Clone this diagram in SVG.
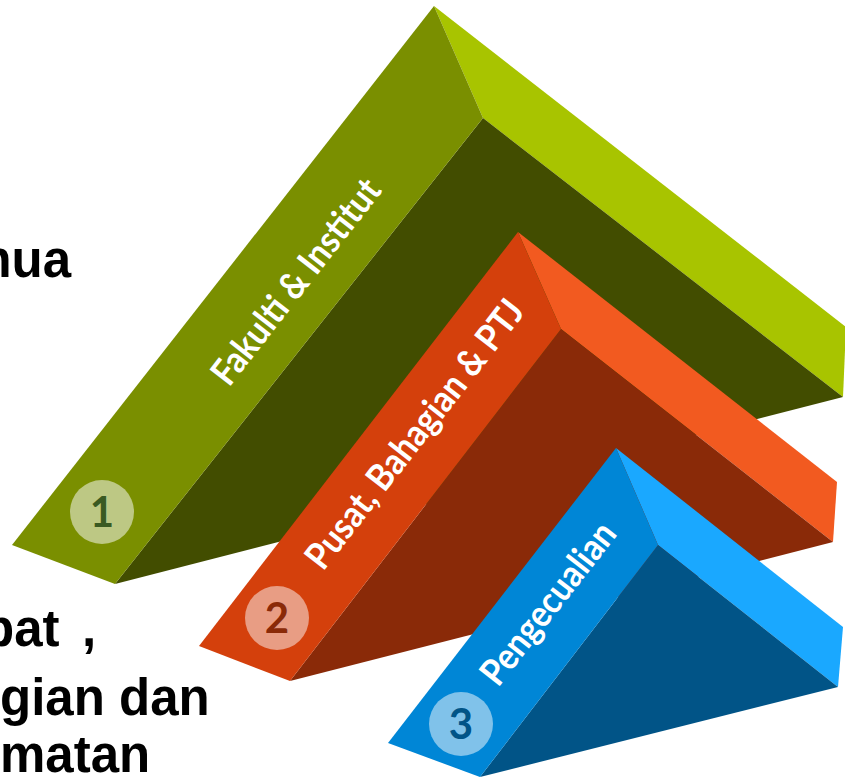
<svg xmlns="http://www.w3.org/2000/svg" width="845" height="779" viewBox="0 0 845 779">
  <style>
    .side { font-family: "Liberation Sans", Arial, sans-serif; font-weight: bold; font-size: 51px; fill: #000000; }
    .label { font-family: Lato, "Open Sans", sans-serif; font-weight: bold; font-size: 37px; fill: #FFFFFF; }
    .num { font-family: Lato, "Open Sans", sans-serif; font-weight: bold; font-size: 42px; text-anchor: middle; }
  </style>
  <rect width="845" height="779" fill="#FFFFFF"/>

  <g id="side-text">
    <text class="side" x="71" y="277" text-anchor="end">mua</text>
    <text class="side" x="-17" y="646">bat <tspan x="82">,</tspan></text>
    <text class="side" x="0" y="715">gian dan</text>
    <text class="side" x="0" y="772">matan</text>
  </g>

  <g id="prism-1">
    <polygon points="434,6 846,327 843,397 483,118" fill="#A8C400"/>
    <polygon points="483,118 843,397 115,584" fill="#424D00"/>
    <polygon points="434,6 483,118 115,584 12,545" fill="#7A8F00"/>
    <circle cx="102" cy="512" r="32" fill="#BDC884"/>
    <text class="num" x="102" y="527" fill="#3A5A22">1</text>
    <text class="label" transform="translate(229,388) rotate(-52)" textLength="250" lengthAdjust="spacingAndGlyphs">Fakulti &amp; Institut</text>
  </g>

  <g id="prism-2">
    <polygon points="518,232 837,482 833,542 561,329" fill="#F25A20"/>
    <polygon points="561,329 833,542 290,681" fill="#8A2A08"/>
    <polygon points="518,232 561,329 290,681 199,646" fill="#D4400C"/>
    <circle cx="277" cy="618" r="32" fill="#E89D84"/>
    <text class="num" x="277" y="633" fill="#8A2A08">2</text>
    <text class="label" transform="translate(323,572) rotate(-52)" textLength="330" lengthAdjust="spacingAndGlyphs">Pusat, Bahagian &amp; PTJ</text>
  </g>

  <g id="prism-3">
    <polygon points="616,448 843,627 838,687 658,545" fill="#1AA8FF"/>
    <polygon points="658,545 838,687 480,777" fill="#015487"/>
    <polygon points="616,448 658,545 480,777 388,743" fill="#0086D6"/>
    <circle cx="461" cy="724" r="32" fill="#80C2EA"/>
    <text class="num" x="461" y="739" fill="#015487">3</text>
    <text class="label" transform="translate(498,688) rotate(-52)" textLength="195" lengthAdjust="spacingAndGlyphs">Pengecualian</text>
  </g>
</svg>
